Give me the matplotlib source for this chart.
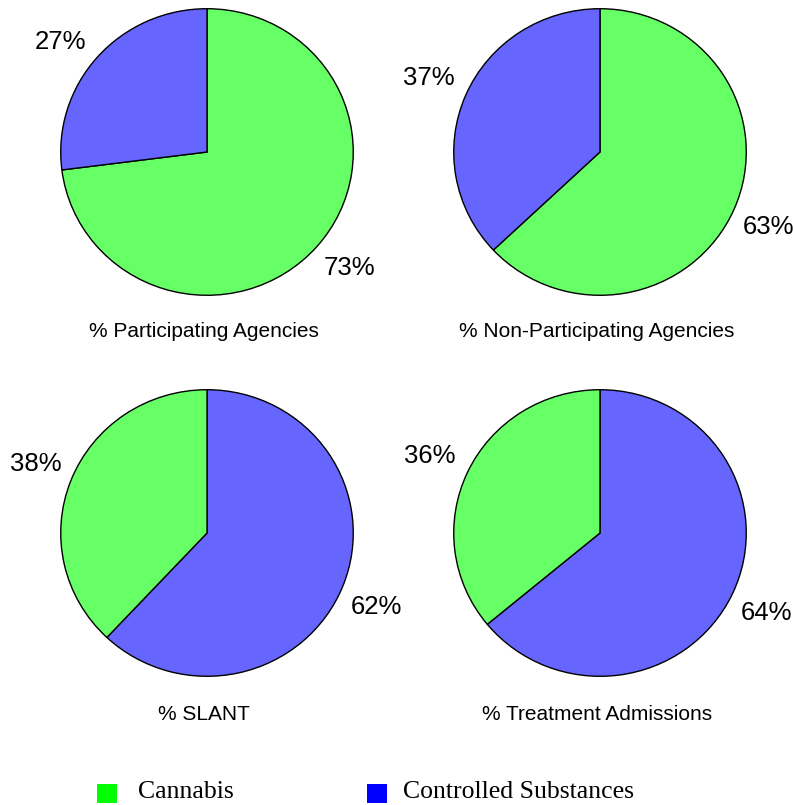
import matplotlib
matplotlib.use("Agg")
import matplotlib.pyplot as plt
from matplotlib.patches import Rectangle

W, H = 793, 805

categories = ["Cannabis", "Controlled Substances"]
titles = ["% Participating Agencies", "% Non-Participating Agencies",
          "% SLANT", "% Treatment Admissions"]
cannabis_pct = [73, 63, 38, 36]
controlled_pct = [27, 37, 62, 64]

pie_colors = {"Cannabis": "#66ff66", "Controlled Substances": "#6666ff"}
legend_colors = {"Cannabis": "#00ff00", "Controlled Substances": "#0000ff"}

# pie bounding boxes in pixels: (left, top, right, bottom)
boxes = [(60, 8, 354, 296), (453, 8, 747, 296),
         (60, 389, 354, 677), (453, 389, 747, 677)]
title_y = [331, 331, 714, 714]
# small pixel nudges (dx, dy downward) for the percentage labels: (large, small)
label_nudge = [((4, -3), (-8, 9)), ((-1, 3), (-2, -2)),
               ((-2, 8), (0, -3)), ((0, 3), (-3, 0))]

fig = plt.figure(figsize=(W / 100, H / 100), dpi=100)
fig.patch.set_facecolor("white")

sans = "Liberation Sans"
serif = "Liberation Serif"

for i, (l, t, r, b) in enumerate(boxes):
    ax = fig.add_axes([l / W, 1 - b / H, (r - l) / W, (b - t) / H])
    c, s = cannabis_pct[i], controlled_pct[i]
    # the larger share is drawn clockwise from 12 o'clock
    if c >= s:
        vals, cats = [c, s], ["Cannabis", "Controlled Substances"]
    else:
        vals, cats = [s, c], ["Controlled Substances", "Cannabis"]
    wedges, texts = ax.pie(
        vals, colors=[pie_colors[k] for k in cats],
        labels=[f"{v}%" for v in vals], labeldistance=1.26,
        startangle=90, counterclock=False, radius=1,
        wedgeprops=dict(edgecolor="black", linewidth=1.0),
        textprops=dict(fontsize=18.5, family=sans, color="black"))
    sx = 2.01 / (r - l)
    sy = 2.01 / (b - t)
    for tx, (dx, dy) in zip(texts, label_nudge[i]):
        tx.set_ha("center")
        tx.set_va("center")
        x0, y0 = tx.get_position()
        tx.set_position((x0 + dx * sx, y0 - dy * sy))
    ax.set_aspect("auto")
    ax.set_xlim(-1.005, 1.005)
    ax.set_ylim(-1.005, 1.005)
    ax.axis("off")
    fig.text(((l + r) / 2 - 3) / W, 1 - title_y[i] / H, titles[i],
             ha="center", va="center", fontsize=15, family=sans)

# legend
sq_x = [97, 367]
txt_x = [138, 403]
for k, cat in enumerate(categories):
    fig.add_artist(Rectangle((sq_x[k] / W, 1 - 803 / H), 20 / W, 19 / H,
                             transform=fig.transFigure,
                             facecolor=legend_colors[cat], edgecolor="none"))
    fig.text(txt_x[k] / W, 1 - 798 / H, cat, ha="left", va="baseline",
             fontsize=18.5, family=serif)

fig.savefig("out.png", dpi=100, facecolor="white")
